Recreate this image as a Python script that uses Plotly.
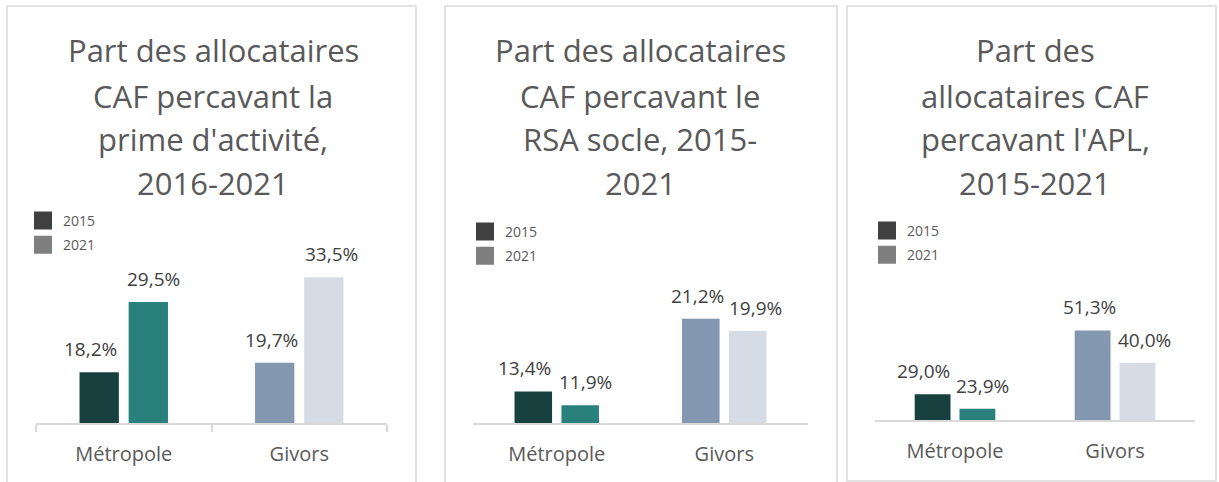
import plotly.graph_objects as go

W, H = 1219, 482

# ---------------- data ----------------
categories = ["Métropole", "Givors"]
years = ["2015", "2021"]

prime_2015 = [18.2, 19.7]
prime_2021 = [29.5, 33.5]
rsa_2015 = [13.4, 21.2]
rsa_2021 = [11.9, 19.9]
apl_2015 = [29.0, 51.3]
apl_2021 = [23.9, 40.0]

title_prime = ["Part des allocataires", "CAF percavant la", "prime d'activité,", "2016-2021"]
title_rsa = ["Part des allocataires", "CAF percavant le", "RSA socle, 2015-", "2021"]
title_apl = ["Part des", "allocataires CAF", "percavant l'APL,", "2015-2021"]

# ---------------- styles ----------------
colors_2015 = ["#17403F", "#8497B0"]
colors_2021 = ["#29807D", "#D6DCE5"]
legend_colors = ["#404040", "#7F7F7F"]
FONT = "Open Sans"
GRID = "#D9D9D9"
BARGAP = 0.44
BARGROUPGAP = 0.2
# extra horizontal nudge of the value labels (pixels), per category
label_nudge_2015 = [-9, -3.5]
label_nudge_2021 = [5, 7.5]


def px_x(v):
    return v / W


def px_y(v):
    return 1 - v / H


def fmt(v):
    return f"{v:.1f}".replace(".", ",") + "%"


panels = [
    dict(v15=prime_2015, v21=prime_2021, title=title_prime, x=(36, 387), y=(423, 237), rng=[10, 40],
         box=(7, 6, 416, 490), tcx=213, tlines=[50.5, 96, 139, 183], leg=(23, 205), ticks=True),
    dict(v15=rsa_2015, v21=rsa_2021, title=title_rsa, x=(473, 808), y=(423, 237), rng=[10, 30],
         box=(445, 6, 837, 490), tcx=640, tlines=[50.5, 96, 139, 183], leg=(465, 216), ticks=False),
    dict(v15=apl_2015, v21=apl_2021, title=title_apl, x=(875, 1195), y=(420, 248.4), rng=[20, 80],
         box=(847, 6, 1216, 481), tcx=1035, tlines=[50.5, 96, 139, 183], leg=(867, 215), ticks=False),
]

fig = go.Figure()
shapes = []
annotations = []
layout_axes = {}

for i, p in enumerate(panels, start=1):
    xa = "x" if i == 1 else f"x{i}"
    ya = "y" if i == 1 else f"y{i}"
    lg = "legend" if i == 1 else f"legend{i}"
    cat_px = (p["x"][1] - p["x"][0]) / len(categories)
    half_slot = cat_px * (1 - BARGAP) / len(years) / 2
    for k, (vals, cols, yr, nudge) in enumerate([(p["v15"], colors_2015, years[0], label_nudge_2015),
                                                 (p["v21"], colors_2021, years[1], label_nudge_2021)]):
        fig.add_trace(go.Bar(
            x=categories, y=vals, name=yr, xaxis=xa, yaxis=ya,
            marker=dict(color=cols, line=dict(width=0)),
            showlegend=False, hoverinfo="skip",
        ))
        shift = -half_slot if k == 0 else half_slot
        for c, v, nd in zip(categories, vals, nudge):
            annotations.append(dict(
                text=fmt(v), x=c, y=v, xref=xa, yref=ya, xanchor="center", yanchor="bottom",
                xshift=shift + nd, yshift=8, showarrow=False,
                font=dict(family=FONT, size=19, color="#404040"),
            ))
    for yr, c in zip(years, legend_colors):
        fig.add_trace(go.Scatter(
            x=[None], y=[None], mode="markers", name=yr, xaxis=xa, yaxis=ya,
            marker=dict(symbol="square", size=16, color=c, line=dict(width=2, color=c)),
            legend=lg, legendgroup=f"{lg}_{yr}", showlegend=True,
        ))

    xkey = "xaxis" if i == 1 else f"xaxis{i}"
    ykey = "yaxis" if i == 1 else f"yaxis{i}"
    layout_axes[xkey] = dict(
        domain=[px_x(p["x"][0]), px_x(p["x"][1])], anchor=ya,
        showline=True, linecolor=GRID, linewidth=1.5, showgrid=False, zeroline=False,
        ticks="outside" if p["ticks"] else "", ticklen=7, tickcolor=GRID, tickwidth=1.5,
        tickson="boundaries",
        ticklabelstandoff=12,
        tickfont=dict(family=FONT, size=20, color="#595959"),
        fixedrange=True,
    )
    layout_axes[ykey] = dict(
        domain=[px_y(p["y"][0]), px_y(p["y"][1])], anchor=xa, range=p["rng"],
        visible=False, fixedrange=True,
    )
    layout_axes[lg] = dict(
        x=px_x(p["leg"][0]), y=px_y(p["leg"][1]), xanchor="left", yanchor="top",
        font=dict(family=FONT, size=14, color="#595959"), bgcolor="rgba(0,0,0,0)",
        tracegroupgap=3, itemclick=False, itemdoubleclick=False,
    )

    x0, y0, x1, y1 = p["box"]
    shapes.append(dict(type="rect", xref="paper", yref="paper",
                       x0=px_x(x0), x1=px_x(x1), y0=px_y(y1), y1=px_y(y0),
                       line=dict(color=GRID, width=1.5), fillcolor="rgba(0,0,0,0)", layer="below"))
    for txt, ly in zip(p["title"], p["tlines"]):
        annotations.append(dict(text=txt, xref="paper", yref="paper", x=px_x(p["tcx"]), y=px_y(ly),
                                xanchor="center", yanchor="middle", showarrow=False,
                                font=dict(family=FONT, size=31, color="#595959")))

fig.update_layout(
    width=W, height=H, margin=dict(l=0, r=0, t=0, b=0),
    paper_bgcolor="white", plot_bgcolor="white",
    barmode="group", bargap=BARGAP, bargroupgap=BARGROUPGAP,
    separators=", ",
    shapes=shapes, annotations=annotations,
    font=dict(family=FONT, color="#595959"),
    hovermode=False,
    **layout_axes,
)

fig.write_html(
    "out.html",
    config={"displayModeBar": False, "staticPlot": False},
    post_script="document.body.style.margin='0';document.body.style.overflow='hidden';",
)
